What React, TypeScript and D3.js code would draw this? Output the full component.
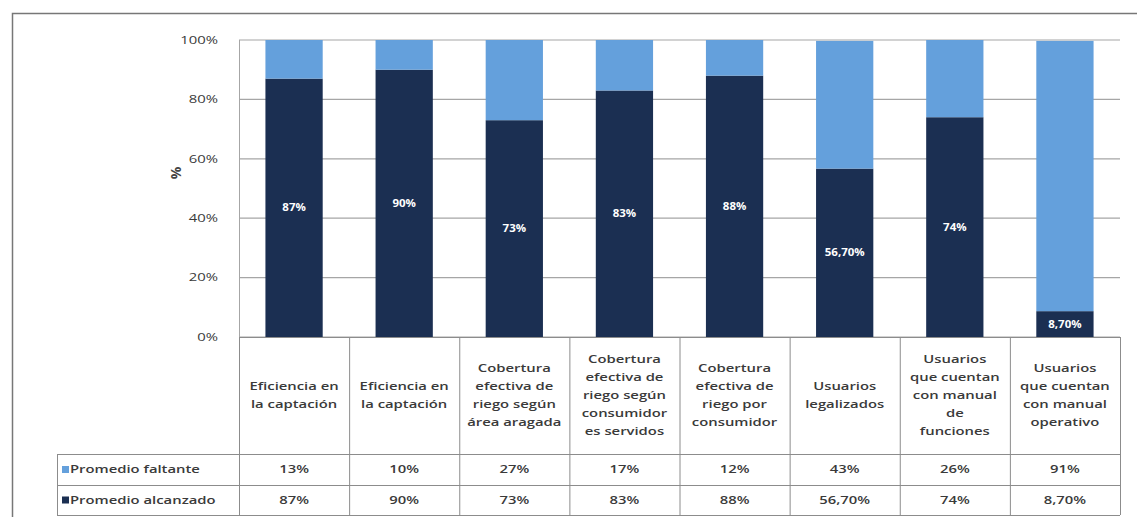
import React from "react";
import * as d3 from "d3";

const categories: string[][] = [
  ["Eficiencia en", "la captación"],
  ["Eficiencia en", "la captación"],
  ["Cobertura", "efectiva de", "riego según", "área aragada"],
  ["Cobertura", "efectiva de", "riego según", "consumidor", "es servidos"],
  ["Cobertura", "efectiva de", "riego por", "consumidor"],
  ["Usuarios", "legalizados"],
  ["Usuarios", "que cuentan", "con manual", "de", "funciones"],
  ["Usuarios", "que cuentan", "con manual", "operativo"],
];
const alcanzado: number[] = [87, 90, 73, 83, 88, 56.7, 74, 8.7];
const faltante: number[] = [13, 10, 27, 17, 12, 43, 26, 91];
const alcanzadoLabels: string[] = ["87%", "90%", "73%", "83%", "88%", "56,70%", "74%", "8,70%"];
const faltanteLabels: string[] = ["13%", "10%", "27%", "17%", "12%", "43%", "26%", "91%"];
const yTicks: number[] = [0, 20, 40, 60, 80, 100];
const seriesNames: string[] = ["Promedio faltante", "Promedio alcanzado"];

const DARK = "#1b2f52";
const LIGHT = "#64a0dc";
const GRID = "#a6a6a6";
const LINE = "#8c8c8c";
const TEXT = "#3a3a3a";
const FONT = "'Open Sans', 'Noto Sans', sans-serif";
const SX = 1.35;

export default function App() {
  const W = 1137;
  const H = 517;
  const left = 239;
  const right = 1120;
  const top = 40;
  const bottom = 337;
  const labelRowBottom = 454;
  const row1Bottom = 485;
  const row2Bottom = 515;
  const legendLeft = 57;

  const idx = categories.map((_, i) => String(i));
  const x = d3.scaleBand<string>().domain(idx).range([left, right]).paddingInner(0).paddingOuter(0);
  const y = d3.scaleLinear().domain([0, 100]).range([bottom, top]);
  const bw = x.bandwidth() * 0.52;
  const cxOf = (i: number) => (x(String(i)) as number) + x.bandwidth() / 2;

  const rows = categories.map((c, i) => ({ key: String(i), alc: alcanzado[i], fal: faltante[i] }));
  const stacked = d3.stack<any>().keys(["alc", "fal"])(rows);

  const lineH = 18;

  return (
    <div style={{ position: "fixed", left: 0, top: 0 }}>
      <svg width={W} height={H} style={{ display: "block", background: "#fff" }} fontFamily={FONT}>
        <rect x={12.5} y={13.5} width={W + 20} height={H + 20} fill="none" stroke="#777" strokeWidth={1.5} />

        {yTicks.map((t) => (
          <line key={t} x1={left} x2={right} y1={y(t)} y2={y(t)} stroke={GRID} strokeWidth={1.2} />
        ))}
        <line x1={left + 0.5} x2={left + 0.5} y1={top} y2={bottom} stroke={GRID} strokeWidth={1} />

        {yTicks.map((t) => (
          <text
            key={t}
            transform={`translate(218,${y(t)}) scale(${SX},1)`}
            dy="0.35em"
            textAnchor="end"
            fontSize={11}
            fill={TEXT}
          >
            {t + "%"}
          </text>
        ))}
        <text transform={`translate(176,173) rotate(-90)`} textAnchor="middle" dy="0.35em" fontSize={14} fontWeight="bold" fill="#444">
          %
        </text>

        {stacked.map((s, si) =>
          s.map((d, i) => (
            <rect
              key={si + "-" + i}
              x={cxOf(i) - bw / 2}
              y={y(d[1])}
              width={bw}
              height={y(d[0]) - y(d[1])}
              fill={si === 0 ? DARK : LIGHT}
            />
          ))
        )}

        {alcanzado.map((v, i) => (
          <text
            key={i}
            transform={`translate(${cxOf(i)},${y(v / 2)}) scale(1.15,1)`}
            dy="0.35em"
            textAnchor="middle"
            fontSize={10}
            fontWeight="bold"
            fill="#fff"
          >
            {alcanzadoLabels[i]}
          </text>
        ))}

        <g stroke={LINE} strokeWidth={1}>
          <line x1={left} x2={right} y1={bottom + 0.5} y2={bottom + 0.5} />
          <line x1={legendLeft} x2={right} y1={labelRowBottom + 0.5} y2={labelRowBottom + 0.5} />
          <line x1={legendLeft} x2={right} y1={row1Bottom + 0.5} y2={row1Bottom + 0.5} />
          <line x1={legendLeft} x2={right} y1={row2Bottom + 0.5} y2={row2Bottom + 0.5} />
          <line x1={legendLeft + 0.5} x2={legendLeft + 0.5} y1={labelRowBottom} y2={row2Bottom} />
          {idx.map((k) => (
            <line key={k} x1={(x(k) as number) + 0.5} x2={(x(k) as number) + 0.5} y1={bottom} y2={row2Bottom} />
          ))}
          <line x1={right + 0.5} x2={right + 0.5} y1={bottom} y2={row2Bottom} />
        </g>

        {categories.map((lines, i) => {
          const cy = (bottom + labelRowBottom) / 2;
          const startY = cy - ((lines.length - 1) * lineH) / 2;
          return (
            <text
              key={i}
              transform={`translate(${cxOf(i)},0) scale(${SX},1)`}
              textAnchor="middle"
              fontSize={11}
              fontWeight={600}
              fill={TEXT}
            >
              {lines.map((ln, j) => (
                <tspan key={j} x={0} y={startY + j * lineH} dy="0.35em">
                  {ln}
                </tspan>
              ))}
            </text>
          );
        })}

        {seriesNames.map((name, r) => {
          const yTop = r === 0 ? labelRowBottom : row1Bottom;
          const yBot = r === 0 ? row1Bottom : row2Bottom;
          const cy = (yTop + yBot) / 2;
          const vals = r === 0 ? faltanteLabels : alcanzadoLabels;
          return (
            <g key={name}>
              <rect x={legendLeft + 5} y={cy - 3.5} width={7} height={7} fill={r === 0 ? LIGHT : DARK} />
              <text
                transform={`translate(${legendLeft + 13},${cy}) scale(${SX},1)`}
                dy="0.35em"
                fontSize={11}
                fontWeight={600}
                fill={TEXT}
              >
                {name}
              </text>
              {vals.map((v, i) => (
                <text
                  key={i}
                  transform={`translate(${cxOf(i)},${cy}) scale(${SX},1)`}
                  dy="0.35em"
                  textAnchor="middle"
                  fontSize={11}
                  fontWeight={600}
                  fill={TEXT}
                >
                  {v}
                </text>
              ))}
            </g>
          );
        })}
      </svg>
    </div>
  );
}
